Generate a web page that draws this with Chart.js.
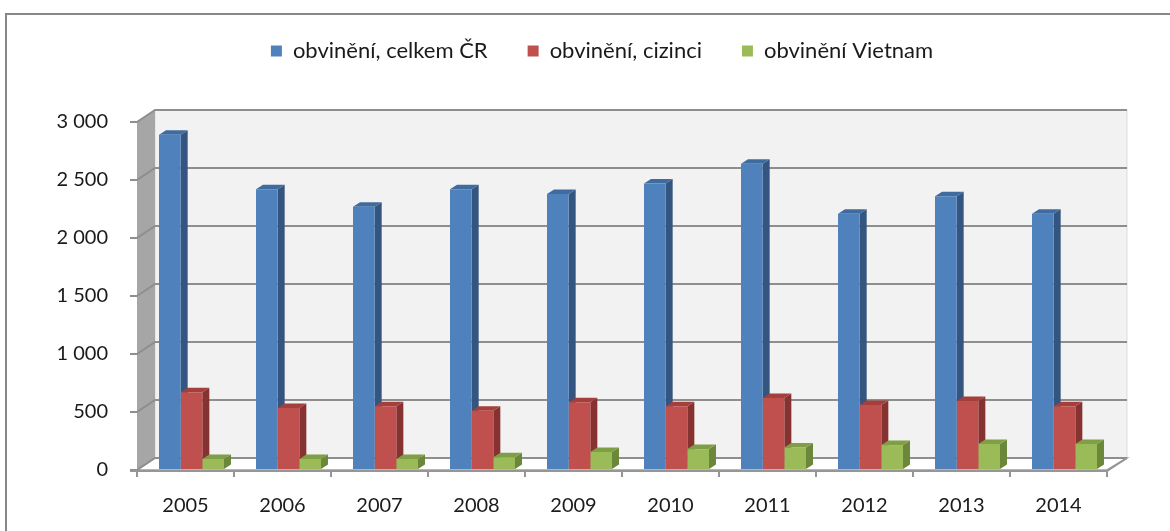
<!DOCTYPE html>
<html>
<head>
<meta charset="utf-8">
<script src="https://cdn.jsdelivr.net/npm/chart.js@4"></script>
<style>
  html, body { margin: 0; padding: 0; background: #fff; }
  canvas { display: block; }
</style>
</head>
<body>
<canvas id="myChart" width="1170" height="531"></canvas>

<script>
const years = ['2005', '2006', '2007', '2008', '2009', '2010', '2011', '2012', '2013', '2014'];
const celkemCR = [2890, 2420, 2270, 2420, 2380, 2470, 2640, 2210, 2360, 2210];
const cizinci = [670, 535, 550, 510, 585, 550, 620, 560, 595, 550];
const vietnam = [95, 95, 95, 110, 155, 180, 195, 215, 225, 225];
const yTicks = [0, 500, 1000, 1500, 2000, 2500, 3000];

// front / side / top colours of each series
const shades = [
  {front: '#4f81bd', side: '#34557f', top: '#3f6b9f'},
  {front: '#c0504d', side: '#863230', top: '#a43f3c'},
  {front: '#9bbb59', side: '#6b883a', top: '#7f9e45'}
];

const WALL_DX = 18, WALL_DY = -12;   // depth of the walls
const BAR_DX = 7, BAR_DY = -4.5;     // depth of the bars
const BAR_SHIFT = 6;

function fmt(v) {
  if (v >= 1000) {
    const r = v % 1000;
    return Math.floor(v / 1000) + ' ' + String(r).padStart(3, '0');
  }
  return String(v);
}

function poly(ctx, pts, fill, stroke, lw) {
  ctx.beginPath();
  ctx.moveTo(pts[0][0], pts[0][1]);
  for (let i = 1; i < pts.length; i++) ctx.lineTo(pts[i][0], pts[i][1]);
  ctx.closePath();
  if (fill) { ctx.fillStyle = fill; ctx.fill(); }
  if (stroke) { ctx.strokeStyle = stroke; ctx.lineWidth = lw || 1; ctx.stroke(); }
}

const fake3d = {
  id: 'fake3d',
  beforeDraw(chart) {
    const ctx = chart.ctx;
    ctx.save();
    ctx.fillStyle = '#fff';
    ctx.fillRect(0, 0, chart.width, chart.height);
    ctx.strokeStyle = '#878787';
    ctx.lineWidth = 2;
    ctx.strokeRect(6, 14, chart.width + 20, chart.height + 20);
    ctx.restore();
  },
  beforeDatasetsDraw(chart) {
    const ctx = chart.ctx;
    const a = chart.chartArea;
    const y = chart.scales.y;
    const top = y.getPixelForValue(3000), bot = y.getPixelForValue(0);
    ctx.save();
    // back wall
    poly(ctx, [[a.left + WALL_DX, top + WALL_DY], [a.right + WALL_DX + 2, top + WALL_DY],
               [a.right + WALL_DX + 2, bot + WALL_DY], [a.left + WALL_DX, bot + WALL_DY]], '#f2f2f2', '#dcdcdc', 1);
    // left wall
    poly(ctx, [[a.left, top], [a.left + WALL_DX, top + WALL_DY],
               [a.left + WALL_DX, bot + WALL_DY], [a.left, bot]], '#a6a6a6', null);
    // floor
    poly(ctx, [[a.left, bot], [a.right, bot], [a.right + WALL_DX + 2, bot + WALL_DY],
               [a.left + WALL_DX, bot + WALL_DY]], '#ffffff', '#a0a0a0', 1.5);
    // grid lines
    yTicks.forEach(v => {
      const py = y.getPixelForValue(v);
      ctx.beginPath();
      ctx.moveTo(a.left, py);
      ctx.lineTo(a.left + WALL_DX, py + WALL_DY);
      ctx.lineTo(a.right + WALL_DX + 2, py + WALL_DY);
      ctx.strokeStyle = '#8e8e8e';
      ctx.lineWidth = 2;
      ctx.stroke();
    });
    // floor front edge
    ctx.beginPath();
    ctx.moveTo(a.left - 7, bot + 1);
    ctx.lineTo(a.right, bot + 1);
    ctx.lineTo(a.right + WALL_DX + 2, bot + WALL_DY);
    ctx.strokeStyle = '#969696';
    ctx.lineWidth = 2;
    ctx.stroke();
    ctx.restore();

    // bars are drawn a little to the right, like the 3D original
    ctx.save();
    ctx.translate(BAR_SHIFT, 0);
    chart.data.datasets.forEach((ds, di) => {
      const meta = chart.getDatasetMeta(di);
      meta.data.forEach(el => {
        const p = el.getProps(['x', 'y', 'base', 'width'], true);
        const l = p.x - p.width / 2, r = p.x + p.width / 2;
        poly(ctx, [[r, p.y], [r + BAR_DX, p.y + BAR_DY], [r + BAR_DX, p.base + BAR_DY], [r, p.base]], shades[di].side);
        poly(ctx, [[l, p.y], [l + BAR_DX, p.y + BAR_DY], [r + BAR_DX, p.y + BAR_DY], [r, p.y]], shades[di].top);
      });
    });
  },
  afterDatasetsDraw(chart) {
    chart.ctx.restore();
  }
};

const data = {
  labels: years,
  datasets: [
    {label: 'obvinění, celkem ČR', data: celkemCR, backgroundColor: shades[0].front},
    {label: 'obvinění, cizinci', data: cizinci, backgroundColor: shades[1].front},
    {label: 'obvinění Vietnam', data: vietnam, backgroundColor: shades[2].front}
  ]
};

const tickFont = {family: 'Lato', size: 20};

const config = {
  type: 'bar',
  data: data,
  options: {
    responsive: false,
    animation: false,
    events: [],
    layout: {padding: {left: 34, right: 0, top: 0, bottom: 0}},
    datasets: {bar: {categoryPercentage: 0.67, barPercentage: 1, borderWidth: 0}},
    scales: {
      x: {
        grid: {drawOnChartArea: false, drawTicks: true, tickLength: 7, color: '#969696', lineWidth: 2},
        border: {display: false},
        ticks: {padding: 17, color: '#1a1a1a', font: tickFont},
        afterFit(scale) { scale.height = 61; }
      },
      y: {
        min: 0, max: 3000,
        afterBuildTicks(scale) { scale.ticks = yTicks.map(v => ({value: v})); },
        grid: {drawOnChartArea: false, drawTicks: true, tickLength: 7, color: '#8e8e8e', lineWidth: 2},
        border: {display: false},
        ticks: {padding: 22, color: '#1a1a1a', font: tickFont, callback: v => fmt(v)},
        afterFit(scale) { scale.width = 103; }
      },
      // empty axis on the right, only keeps room for the 3D depth
      y2: {
        position: 'right',
        grid: {display: false},
        border: {display: false},
        ticks: {display: false},
        afterFit(scale) { scale.width = 63; }
      }
    },
    plugins: {
      legend: {
        position: 'top',
        weight: 1000,
        labels: {boxWidth: 11, boxHeight: 11, padding: 40, color: '#1a1a1a', font: {family: 'Lato', size: 22}}
      },
      subtitle: {display: true, text: '', weight: 500, font: {size: 10, lineHeight: 1}, padding: {top: 0, bottom: 40}},
      tooltip: {enabled: false}
    }
  },
  plugins: [fake3d]
};

var myChart = new Chart(document.getElementById('myChart'), config);
</script>
</body>
</html>
